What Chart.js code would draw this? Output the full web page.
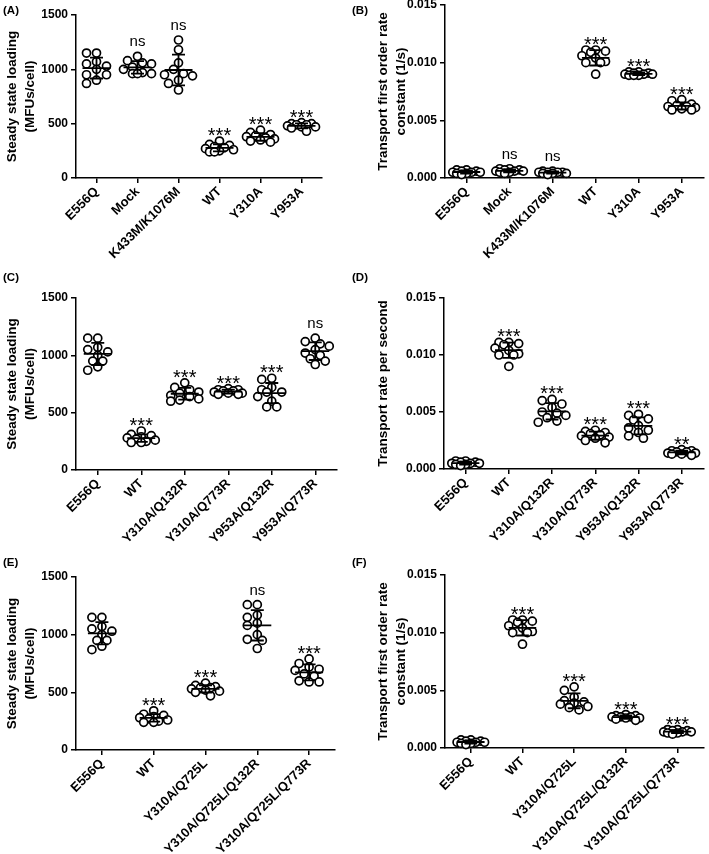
<!DOCTYPE html>
<html>
<head>
<meta charset="utf-8">
<script src="https://cdn.jsdelivr.net/npm/chart.js@4.4.0/dist/chart.umd.min.js"></script>
<style>
  body { margin: 0; background: #fff; width: 709px; height: 854px; overflow: hidden; position: relative; }
  canvas { position: absolute; }
  .tag { position: absolute; font: bold 11.5px Arial, "Liberation Sans", sans-serif; color: #000; z-index: 2; }
</style>
</head>
<body>
<div class="tag" style="left:3px;top:4px">(A)</div>
<div class="tag" style="left:352px;top:4px">(B)</div>
<div class="tag" style="left:3px;top:271px">(C)</div>
<div class="tag" style="left:352px;top:271px">(D)</div>
<div class="tag" style="left:3px;top:556px">(E)</div>
<div class="tag" style="left:352px;top:556px">(F)</div>
<canvas id="cA"></canvas>
<canvas id="cB"></canvas>
<canvas id="cC"></canvas>
<canvas id="cD"></canvas>
<canvas id="cE"></canvas>
<canvas id="cF"></canvas>
<script>
const FONT = 'Arial, "Liberation Sans", sans-serif';

// tick labels
const loadTicks = [0, 500, 1000, 1500];
const rateTicks = [0, 0.005, 0.010, 0.015];

// categories
const catsAB = ["E556Q", "Mock", "K433M/K1076M", "WT", "Y310A", "Y953A"];
const catsCD = ["E556Q", "WT", "Y310A/Q132R", "Y310A/Q773R", "Y953A/Q132R", "Y953A/Q773R"];
const catsEF = ["E556Q", "WT", "Y310A/Q725L", "Y310A/Q725L/Q132R", "Y310A/Q725L/Q773R"];

// significance marks
const sigA = ["", "ns", "ns", "***", "***", "***"];
const sigB = ["", "ns", "ns", "***", "***", "***"];
const sigC = ["", "***", "***", "***", "***", "ns"];
const sigD = ["", "***", "***", "***", "***", "**"];
const sigE = ["", "***", "***", "ns", "***"];
const sigF = ["", "***", "***", "***", "***"];

// steady state loading (MFUs/cell)
const loadE556Q = [1150, 1150, 1070, 1050, 1030, 1000, 950, 950, 900, 870];
const loadMock = [1120, 1080, 1060, 1050, 1020, 1000, 970, 960, 960, 960];
const loadK433M = [1270, 1180, 1060, 1000, 960, 950, 940, 900, 870, 810];
const loadWT = [340, 310, 300, 290, 280, 270, 260, 250, 240, 240];
const loadY310A = [440, 420, 400, 390, 380, 370, 360, 350, 340, 330];
const loadY953A = [510, 500, 500, 490, 490, 480, 470, 470, 460, 430];
const loadY310AQ132R = [760, 720, 700, 680, 670, 650, 640, 620, 610, 600];
const loadY310AQ773R = [710, 700, 700, 690, 690, 680, 670, 670, 660, 660];
const loadY953AQ132R = [800, 790, 720, 700, 680, 680, 640, 600, 550, 550];
const loadY953AQ773R = [1150, 1120, 1100, 1080, 1050, 1020, 1000, 970, 950, 920];
const loadY310AQ725L = [580, 560, 550, 540, 540, 530, 520, 510, 500, 470];
const loadY310AQ725LQ132R = [1260, 1260, 1170, 1150, 1100, 1080, 1000, 960, 950, 880];
const loadY310AQ725LQ773R = [790, 750, 720, 700, 690, 660, 640, 600, 590, 590];

// transport rate constants (1/s)
const rateE556Q = [0.0007, 0.0007, 0.0006, 0.0006, 0.0005, 0.0005, 0.0005, 0.0004, 0.0004, 0.0003];
const rateMock = [0.0008, 0.0008, 0.0007, 0.0007, 0.0006, 0.0006, 0.0006, 0.0005, 0.0005, 0.0004];
const rateK433M = [0.0006, 0.0006, 0.0005, 0.0005, 0.0005, 0.0005, 0.0004, 0.0004, 0.0004, 0.0003];
const rateWT = [0.0111, 0.0111, 0.0110, 0.0109, 0.0106, 0.0104, 0.0101, 0.0100, 0.0100, 0.0090];
const rateY310A = [0.0092, 0.0092, 0.0091, 0.0091, 0.0090, 0.0090, 0.0090, 0.0089, 0.0089, 0.0089];
const rateY953A = [0.0068, 0.0067, 0.0064, 0.0063, 0.0062, 0.0062, 0.0061, 0.0060, 0.0059, 0.0059];
const rateY310AQ132R = [0.0061, 0.0060, 0.0057, 0.0054, 0.0050, 0.0049, 0.0047, 0.0045, 0.0042, 0.0041];
const rateY310AQ773R = [0.0034, 0.0033, 0.0032, 0.0031, 0.0030, 0.0029, 0.0028, 0.0027, 0.0025, 0.0023];
const rateY953AQ132R = [0.0048, 0.0047, 0.0044, 0.0043, 0.0038, 0.0036, 0.0034, 0.0032, 0.0029, 0.0027];
const rateY953AQ773R = [0.0017, 0.0016, 0.0016, 0.0015, 0.0015, 0.0014, 0.0014, 0.0013, 0.0013, 0.0012];
const rateY310AQ725L = [0.0053, 0.0050, 0.0044, 0.0041, 0.0040, 0.0039, 0.0038, 0.0036, 0.0035, 0.0033];
const rateY310AQ725LQ132R = [0.0029, 0.0028, 0.0028, 0.0027, 0.0027, 0.0027, 0.0026, 0.0026, 0.0025, 0.0024];
const rateY310AQ725LQ773R = [0.0016, 0.0016, 0.0015, 0.0015, 0.0014, 0.0014, 0.0014, 0.0013, 0.0013, 0.0012];

const loadTitle = ["Steady state loading", "(MFUs/cell)"];
const rateTitle = ["Transport first order rate", "constant (1/s)"];

// page layout of each panel: canvas box + where the plot area should land
const panels = [
  { id: "cA", box: [0, 0, 355, 285], plot: [76, 15, 322, 178], cats: catsAB, sig: sigA, ticks: loadTicks, title: loadTitle,
    groups: [loadE556Q, loadMock, loadK433M, loadWT, loadY310A, loadY953A] },
  { id: "cB", box: [355, -10, 354, 295], plot: [445, 5, 708, 178], cats: catsAB, sig: sigB, ticks: rateTicks, title: rateTitle,
    groups: [rateE556Q, rateMock, rateK433M, rateWT, rateY310A, rateY953A] },
  { id: "cC", box: [0, 285, 355, 285], plot: [76, 298, 337, 470], cats: catsCD, sig: sigC, ticks: loadTicks, title: loadTitle,
    groups: [loadE556Q, loadWT, loadY310AQ132R, loadY310AQ773R, loadY953AQ132R, loadY953AQ773R] },
  { id: "cD", box: [355, 285, 354, 285], plot: [444, 298, 707, 469], cats: catsCD, sig: sigD, ticks: rateTicks, title: "Transport rate per second",
    groups: [rateE556Q, rateWT, rateY310AQ132R, rateY310AQ773R, rateY953AQ132R, rateY953AQ773R] },
  { id: "cE", box: [0, 565, 355, 289], plot: [76, 577, 335, 750], cats: catsEF, sig: sigE, ticks: loadTicks, title: loadTitle,
    groups: [loadE556Q, loadWT, loadY310AQ725L, loadY310AQ725LQ132R, loadY310AQ725LQ773R] },
  { id: "cF", box: [355, 562, 354, 292], plot: [445, 575, 708, 748], cats: catsEF, sig: sigF, ticks: rateTicks, title: rateTitle,
    groups: [rateE556Q, rateWT, rateY310AQ725L, rateY310AQ725LQ132R, rateY310AQ725LQ773R] }
];

function meanSd(vals) {
  const m = vals.reduce((a, b) => a + b, 0) / vals.length;
  const v = vals.reduce((a, b) => a + (b - m) * (b - m), 0) / (vals.length - 1);
  return [m, Math.sqrt(v)];
}

// spread the dots sideways so they don't sit on top of each other (in pixels, then back to category units)
function swarm(vals, pxX, pxY) {
  const placed = [];
  const tries = [0, -5, 5, -10, 10, -14, 14];
  const order = vals.map((v, i) => i).sort((a, b) => vals[b] - vals[a]);
  const offs = new Array(vals.length).fill(0);
  order.forEach(idx => {
    const py = vals[idx] * pxY;
    let best = 0, bestD = -1;
    for (const t of tries) {
      let d = Infinity;
      placed.forEach(p => { d = Math.min(d, Math.hypot(p[0] - t, p[1] - py)); });
      if (d >= 7.5) { best = t; bestD = d; break; }
      if (d > bestD) { bestD = d; best = t; }
    }
    placed.push([best, py]);
    offs[idx] = best / pxX;
  });
  return offs;
}

const sigPlugin = {
  id: "sig",
  afterDatasetsDraw(chart, args, opts) {
    const { ctx } = chart;
    const xs = chart.scales.x, ys = chart.scales.y;
    ctx.save();
    ctx.fillStyle = "#000";
    ctx.textAlign = "center";
    ctx.textBaseline = "alphabetic";
    opts.sig.forEach((s, i) => {
      if (!s) return;
      const vals = opts.groups[i];
      const [m, sd] = meanSd(vals);
      const top = Math.min(ys.getPixelForValue(Math.max(...vals)) - 4, ys.getPixelForValue(m + sd));
      const x = xs.getPixelForValue(i);
      if (s === "ns") {
        ctx.font = "15px " + FONT;
        ctx.fillText(s, x, top - 6);
      } else {
        ctx.font = "20px " + FONT;
        ctx.fillText(s, x, top + 5);
      }
    });
    ctx.restore();
  }
};

panels.forEach(p => {
  const [L, T, W, H] = p.box;
  const [px0, py0, px1, py1] = p.plot;
  const n = p.cats.length;
  const ymax = p.ticks[p.ticks.length - 1];
  const pxX = (px1 - px0) / n;
  const pxY = (py1 - py0) / ymax;
  const isRate = ymax < 1;

  const dots = [];
  const lines = [];
  const mh = 14 / pxX, ch = 6.5 / pxX;
  p.groups.forEach((vals, i) => {
    const offs = swarm(vals, pxX, pxY);
    vals.forEach((v, j) => dots.push({ x: i + offs[j], y: v }));
    const [m, sd] = meanSd(vals);
    lines.push({ x: i - mh, y: m }, { x: i + mh, y: m }, { x: i, y: null },
      { x: i, y: m - sd }, { x: i, y: m + sd }, { x: i, y: null },
      { x: i - ch, y: m + sd }, { x: i + ch, y: m + sd }, { x: i, y: null },
      { x: i - ch, y: m - sd }, { x: i + ch, y: m - sd }, { x: i, y: null });
  });

  const el = document.getElementById(p.id);
  el.width = W; el.height = H;
  el.style.left = L + "px"; el.style.top = T + "px";
  el.style.width = W + "px"; el.style.height = H + "px";

  new Chart(el, {
    type: "scatter",
    data: {
      datasets: [
        {
          type: "line",
          data: lines,
          borderColor: "#000",
          borderWidth: 1.8,
          pointRadius: 0,
          spanGaps: false,
          fill: false,
          tension: 0,
          order: 0
        },
        {
          data: dots,
          pointRadius: 4,
          pointBorderWidth: 1.7,
          pointBackgroundColor: "#fff",
          pointBorderColor: "#000",
          clip: false,
          order: 1
        }
      ]
    },
    options: {
      responsive: false,
      animation: false,
      events: [],
      layout: { padding: { top: py0 - T, right: L + W - px1, left: 0, bottom: 0 } },
      plugins: {
        legend: { display: false },
        tooltip: { enabled: false },
        sig: { sig: p.sig, groups: p.groups }
      },
      scales: {
        x: {
          type: "linear",
          min: -0.5,
          max: n - 0.5,
          afterBuildTicks: s => { s.ticks = p.cats.map((c, i) => ({ value: i })); },
          afterFit: s => { s.height = T + H - py1; },
          ticks: {
            callback: v => p.cats[v],
            minRotation: 45,
            maxRotation: 45,
            autoSkip: false,
            padding: 1,
            color: "#000",
            font: { family: FONT, size: 13, weight: "bold" }
          },
          grid: { drawOnChartArea: false, drawTicks: true, tickLength: 5, color: "#000", lineWidth: 1.5 },
          border: { color: "#000", width: 1.5 }
        },
        y: {
          type: "linear",
          min: 0,
          max: ymax,
          afterBuildTicks: s => { s.ticks = p.ticks.map(v => ({ value: v })); },
          afterFit: s => { s.width = px0 - L; },
          ticks: {
            callback: v => isRate ? v.toFixed(3) : String(v),
            padding: 3,
            color: "#000",
            font: { family: FONT, size: 12, weight: "bold" }
          },
          grid: { drawOnChartArea: false, drawTicks: true, tickLength: 5, color: "#000", lineWidth: 1.5 },
          border: { color: "#000", width: 1.5 },
          title: {
            display: true,
            text: p.title,
            color: "#000",
            font: { family: FONT, size: 13.5, weight: "bold", lineHeight: 1.3 },
            padding: { top: isRate ? 20 : 4, bottom: 0 }
          }
        }
      }
    },
    plugins: [sigPlugin]
  });
});
</script>
</body>
</html>
